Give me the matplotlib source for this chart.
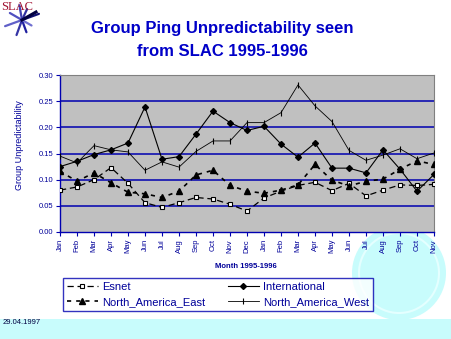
import matplotlib
matplotlib.use("Agg")
import matplotlib.pyplot as plt
from matplotlib.patches import Circle, Rectangle
import numpy as np

months = ["Jan", "Feb", "Mar", "Apr", "May", "Jun", "Jul", "Aug", "Sep", "Oct", "Nov", "Dec",
          "Jan", "Feb", "Mar", "Apr", "May", "Jun", "Jul", "Aug", "Sep", "Oct", "Nov"]

esnet = [0.080, 0.086, 0.100, 0.123, 0.093, 0.056, 0.047, 0.056, 0.066, 0.063, 0.053, 0.040,
         0.065, 0.078, 0.089, 0.095, 0.079, 0.093, 0.069, 0.080, 0.090, 0.089, 0.091]
international = [0.125, 0.135, 0.148, 0.157, 0.170, 0.239, 0.139, 0.144, 0.187, 0.231, 0.209, 0.194,
                 0.202, 0.168, 0.143, 0.170, 0.122, 0.122, 0.113, 0.157, 0.120, 0.078, 0.110]
na_east = [0.116, 0.097, 0.113, 0.094, 0.076, 0.073, 0.066, 0.078, 0.109, 0.118, 0.089, 0.078,
           0.074, 0.080, 0.090, 0.129, 0.099, 0.088, 0.097, 0.101, 0.120, 0.136, 0.129]
na_west = [0.145, 0.132, 0.165, 0.157, 0.153, 0.118, 0.134, 0.124, 0.154, 0.174, 0.174, 0.209,
           0.209, 0.228, 0.281, 0.241, 0.211, 0.156, 0.137, 0.147, 0.159, 0.140, 0.151]

y_ticks = [0.00, 0.05, 0.10, 0.15, 0.20, 0.25, 0.30]

title = "Group Ping Unpredictability seen\nfrom SLAC 1995-1996"
y_label = "Group Unpredictability"
x_label = "Month 1995-1996"
date_text = "29.04.1997"

W, H = 452, 339
def fx(px): return px / W
def fy(py): return 1 - py / H

plt.rcParams['font.family'] = ['Liberation Sans', 'DejaVu Sans']
BLUE = "#0000B0"
TXT = "#000099"

fig = plt.figure(figsize=(W / 100, H / 100), dpi=100)
fig.patch.set_facecolor("white")

# background decoration
bg = fig.add_axes([0, 0, 1, 1], zorder=-5)
bg.set_xlim(0, W); bg.set_ylim(H, 0); bg.axis("off")
bg.add_patch(Circle((399, 273), 47, facecolor="#C8FCFC", edgecolor="none"))
bg.add_patch(Circle((399, 273), 40, facecolor="none", edgecolor="#E4FFFF", lw=1.5))
bg.add_patch(Rectangle((0, 319), W, 20, facecolor="#C8FCFC", edgecolor="none"))
# logo star
cx, cy = 22, 20
angles = [20, 65, 100, 150, 200, 250, 290, 330]
lens = [18, 12, 15, 14, 18, 16, 13, 11]
cols = ["#101070", "#3030A0", "#4040B0", "#5050C0", "#6060C8", "#3535A5", "#2020A0", "#7070D0"]
for a, l, c in zip(angles, lens, cols):
    r = np.deg2rad(a)
    bg.plot([cx, cx + l * np.cos(r)], [cy, cy - l * np.sin(r)], color=c, lw=1.6, solid_capstyle="round")
bg.plot([cx, cx + 14], [cy, cy - 8], color="#000040", lw=2.2)
bg.text(1, 1, "SLAC", color="#A01030", fontsize=9, family=["Liberation Serif", "DejaVu Serif"],
        va="top", ha="left")

ax = fig.add_axes([fx(60), fy(232), fx(434) - fx(60), fy(75) - fy(232)])
ax.set_facecolor("#C0C0C0")
x = np.arange(len(months))

ax.plot(x, esnet, color="black", lw=0.9, dashes=(5, 3), marker="s", ms=3.5,
        mfc="white", mec="black", mew=0.8, label="Esnet", zorder=3)
ax.plot(x, international, color="black", lw=0.8, marker="D", ms=3, mfc="black",
        mec="black", label="International", zorder=3)
ax.plot(x, na_east, color="black", lw=1.2, dashes=(2.5, 3), marker="^", ms=4, mfc="black",
        mec="black", label="North_America_East", zorder=3)
ax.plot(x, na_west, color="black", lw=0.6, marker="|", ms=5, mew=0.8, mec="black",
        label="North_America_West", zorder=3)

ax.set_xlim(0, len(months) - 1)
ax.set_ylim(0, 0.30)
ax.set_yticks(y_ticks)
ax.set_yticklabels([f"{v:.2f}" for v in y_ticks], color=TXT, fontsize=5.5)
for v in y_ticks[1:-1]:
    ax.axhline(v, color=BLUE, lw=1.1, zorder=1)
ax.set_xticks(x)
ax.set_xticklabels(months, rotation=90, color=TXT, fontsize=5.5)
ax.tick_params(axis="both", direction="out", length=3, width=0.8, color=BLUE, pad=2)
for s in ["left", "bottom"]:
    ax.spines[s].set_color(BLUE); ax.spines[s].set_linewidth(1.0)
for s in ["top", "right"]:
    ax.spines[s].set_color("#808080"); ax.spines[s].set_linewidth(0.8)

fig.text(fx(246), fy(266), x_label, color=TXT, fontsize=5.5, fontweight="bold",
         ha="center", va="center")
fig.text(fx(20), fy(145), y_label, color=TXT, fontsize=6.5, rotation=90,
         ha="center", va="center")

fig.text(fx(222), fy(40), title, color="#0000C8", fontsize=12, fontweight="bold",
         ha="center", va="center", linespacing=1.75)

h, l = ax.get_legend_handles_labels()
order = [0, 2, 1, 3]
leg = fig.legend([h[i] for i in order], [l[i] for i in order], ncol=2,
                 bbox_to_anchor=(fx(63), fy(278)),
                 loc="upper left", fontsize=8, frameon=True, fancybox=False,
                 handlelength=2.8, handletextpad=0.4, borderpad=0.35, labelspacing=0.45,
                 columnspacing=2.0, labelcolor=TXT, borderaxespad=0)
leg.get_frame().set_edgecolor(BLUE)
leg.get_frame().set_linewidth(1.0)
leg.get_frame().set_facecolor("white")

fig.text(fx(3), fy(322), date_text, color="#000040", fontsize=5.5, ha="left", va="center",
         family=["Liberation Sans Narrow", "Liberation Sans", "DejaVu Sans"])

fig.savefig("out.png", dpi=100)
